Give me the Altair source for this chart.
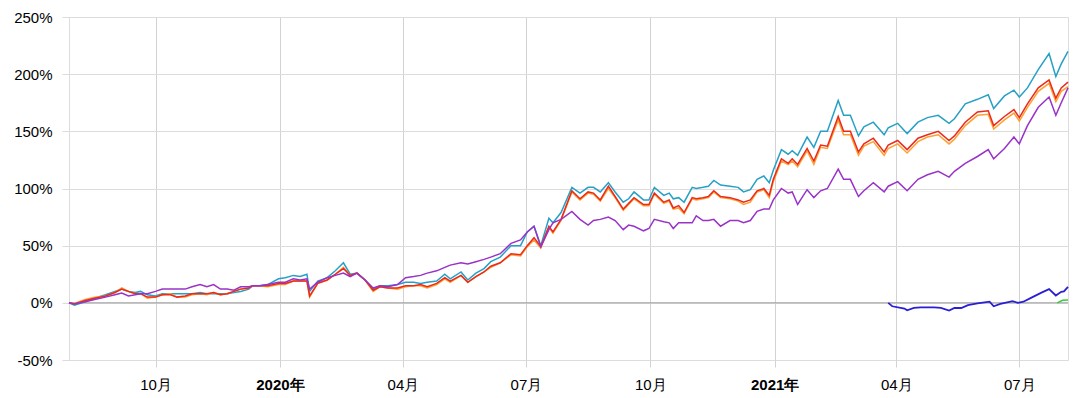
import altair as alt
import pandas as pd

# ---- data (cumulative return, %) ----
dates = [
    "2019-07-29", "2019-08-02", "2019-08-10", "2019-08-17", "2019-08-25", "2019-09-01", "2019-09-06",
    "2019-09-11", "2019-09-16", "2019-09-20", "2019-09-25", "2019-10-01", "2019-10-06", "2019-10-12",
    "2019-10-17", "2019-10-23", "2019-10-28", "2019-11-03", "2019-11-08", "2019-11-13", "2019-11-18",
    "2019-11-23", "2019-11-28", "2019-12-03", "2019-12-09", "2019-12-12", "2019-12-17", "2019-12-23",
    "2019-12-31", "2020-01-05", "2020-01-11", "2020-01-16", "2020-01-21", "2020-01-23", "2020-01-29",
    "2020-02-05", "2020-02-11", "2020-02-17", "2020-02-22", "2020-02-27", "2020-03-04", "2020-03-10",
    "2020-03-15", "2020-03-21", "2020-03-28", "2020-04-03", "2020-04-09", "2020-04-14", "2020-04-19",
    "2020-04-26", "2020-05-02", "2020-05-06", "2020-05-14", "2020-05-19", "2020-05-25", "2020-05-31",
    "2020-06-05", "2020-06-12", "2020-06-20", "2020-06-27", "2020-07-02", "2020-07-07", "2020-07-12",
    "2020-07-18", "2020-07-21", "2020-07-27", "2020-08-04", "2020-08-10", "2020-08-16", "2020-08-20",
    "2020-08-25", "2020-08-31", "2020-09-05", "2020-09-11", "2020-09-15", "2020-09-19", "2020-09-26",
    "2020-09-30", "2020-10-04", "2020-10-11", "2020-10-15", "2020-10-18", "2020-10-22", "2020-10-26",
    "2020-11-01", "2020-11-04", "2020-11-09", "2020-11-13", "2020-11-17", "2020-11-22", "2020-11-29",
    "2020-12-05", "2020-12-09", "2020-12-14", "2020-12-19", "2020-12-24", "2020-12-28", "2020-12-31",
    "2021-01-06", "2021-01-11", "2021-01-14", "2021-01-18", "2021-01-25", "2021-01-30", "2021-02-04",
    "2021-02-09", "2021-02-17", "2021-02-21", "2021-02-26", "2021-03-04", "2021-03-08", "2021-03-15",
    "2021-03-23", "2021-03-26", "2021-04-02", "2021-04-09", "2021-04-17", "2021-04-24", "2021-05-02",
    "2021-05-10", "2021-05-14", "2021-05-22", "2021-05-31", "2021-06-08", "2021-06-12", "2021-06-20",
    "2021-06-27", "2021-07-01", "2021-07-07", "2021-07-15", "2021-07-23", "2021-07-28", "2021-08-01",
    "2021-08-06",
]

teal = [
    0, -2, 1, 4, 7, 10, 12, 10, 9, 10, 7, 6, 8, 8, 8, 8, 8, 9, 8, 8, 8, 8, 9, 10, 12, 15, 15, 16,
    21, 22, 24, 23, 25, 10, 19, 22, 28, 35, 25, 26, 20, 12, 15, 15, 16, 18, 18, 17, 18, 19, 25, 21,
    27, 20, 26, 30, 36, 40, 50, 50, 62, 67, 50, 74, 70, 79, 101, 96, 101, 101, 97, 105, 97, 88, 91,
    97, 90, 90, 101, 94, 96, 91, 92, 88, 101, 100, 101, 102, 107, 103, 102, 101, 97, 99, 108, 111,
    105, 116, 134, 130, 133, 129, 145, 136, 150, 150, 177, 164, 164, 146, 154, 158, 147, 153, 157,
    148, 158, 162, 164, 157, 161, 174, 178, 182, 170, 181, 186, 180, 188, 204, 218, 198, 209, 220,
]

red = [
    0, -1, 2, 4, 6, 9, 12, 10, 8, 8, 5, 5, 7, 7, 5, 6, 8, 8, 8, 9, 7, 8, 10, 12, 13, 15, 15, 15,
    17, 17, 19, 19, 19, 6, 17, 20, 25, 30, 24, 26, 20, 11, 14, 13, 13, 15, 15, 16, 14, 17, 22, 19,
    24, 18, 23, 27, 32, 35, 43, 42, 50, 57, 49, 67, 62, 73, 98, 91, 97, 96, 90, 102, 93, 82, 87,
    92, 86, 86, 96, 88, 90, 83, 85, 79, 92, 91, 92, 93, 98, 93, 92, 90, 88, 90, 98, 100,
    94, 108, 126, 122, 126, 121, 135, 124, 138, 137, 163, 150, 150, 132, 139, 144, 132, 138, 142,
    134, 144, 147, 150, 142, 146, 158, 167, 168, 155, 163, 169, 162, 174, 188, 195, 179, 188, 193,
]

orange = [
    0, -0.5, 3, 5, 6, 9, 13, 10, 8, 8, 4, 5, 7, 8, 5, 5, 7, 8, 7, 9, 7, 8, 10, 12, 13, 15, 15, 14,
    16, 16, 19, 19, 19, 5, 17, 20, 25, 31, 24, 26, 20, 10, 14, 13, 12, 14, 15, 15, 13, 16, 21, 18,
    24, 18, 23, 27, 31, 35, 42, 41, 49, 55, 48, 66, 61, 72, 97, 90, 96, 95, 89, 100, 92, 81, 86,
    91, 85, 85, 95, 87, 89, 82, 83, 78, 91, 90, 91, 92, 97, 92, 91, 89, 86, 88, 97, 99,
    92, 106, 124, 121, 124, 119, 133, 121, 136, 135, 160, 147, 147, 129, 137, 141, 129, 135, 139,
    131, 141, 145, 147, 139, 143, 155, 164, 165, 152, 160, 166, 159, 171, 185, 192, 176, 185, 189,
]

purple = [
    0, -1, 1, 3, 5, 7, 8.5, 6, 7, 8, 8, 10, 12, 12, 12, 12, 14, 16, 14, 16, 12, 12, 11, 14, 14, 15,
    15, 16, 18, 18, 21, 20, 21, 12, 18, 22, 24, 26, 23, 26, 20, 13, 15, 14, 16, 22, 23, 24, 26, 28,
    31, 33, 35, 34, 36, 38, 40, 43, 52, 55, 62, 67, 49, 64, 70, 73, 80, 73, 68, 72, 73, 75, 72, 64,
    68, 67, 63, 65, 73, 71, 70, 65, 70, 70, 70, 76, 72, 72, 73, 67, 72, 72, 70, 72, 80, 82,
    82, 90, 100, 96, 97, 86, 99, 92, 98, 100, 117, 108, 108, 93, 98, 105, 97, 102, 106,
    98, 108, 112, 115, 110, 115, 122, 128, 134, 126, 135, 145, 139, 155, 171, 180, 164, 175, 188,
]

blue_dates = [
    "2021-03-26", "2021-03-29", "2021-04-07", "2021-04-09", "2021-04-14", "2021-04-19", "2021-04-29",
    "2021-05-04", "2021-05-10", "2021-05-14", "2021-05-19", "2021-05-24", "2021-05-31", "2021-06-09",
    "2021-06-12", "2021-06-17", "2021-06-26", "2021-06-30", "2021-07-04", "2021-07-10", "2021-07-17",
    "2021-07-23", "2021-07-28", "2021-08-01", "2021-08-03", "2021-08-06",
]
blue = [0, -3, -5, -6.5, -4.5, -4, -4, -4.5, -6.7, -4.5, -4.5, -2, -0.5, 1, -3, -1, 1.5, 0, 1,
        4.6, 8.7, 12, 6.4, 9.6, 10, 14]

green_dates = ["2021-07-29", "2021-08-02", "2021-08-06"]
green = [0, 2.3, 2.5]

y_ticks = [-50, 0, 50, 100, 150, 200, 250]

# ---- build tables ----
main_series = [
    ("teal", teal, "#27a0c6"),
    ("orange", orange, "#ffa030"),
    ("red", red, "#ea2a1c"),
    ("purple", purple, "#9a32c8"),
]

x_enc = alt.X(
    "date:T",
    scale=alt.Scale(
        domain=[alt.DateTime(year=2019, month=7, date=29), alt.DateTime(year=2021, month=8, date=6)],
        nice=False,
    ),
    axis=alt.Axis(
        values=[
            alt.DateTime(year=2019, month=10, date=1),
            alt.DateTime(year=2020, month=1, date=1),
            alt.DateTime(year=2020, month=4, date=1),
            alt.DateTime(year=2020, month=7, date=1),
            alt.DateTime(year=2020, month=10, date=1),
            alt.DateTime(year=2021, month=1, date=1),
            alt.DateTime(year=2021, month=4, date=1),
            alt.DateTime(year=2021, month=7, date=1),
        ],
        labelExpr="month(datum.value) == 0 ? timeFormat(datum.value, '%Y') + '年' : timeFormat(datum.value, '%m') + '月'",
        labelFontWeight={"condition": {"test": "month(datum.value) == 0", "value": "bold"}, "value": "normal"},
        grid=True,
        gridColor="#d2d2d2",
        tickColor="#d2d2d2",
        tickSize=7,
        labelPadding=10,
        labelFontSize=15,
        labelColor="#000000",
        domain=False,
        title=None,
    ),
)

y_enc = alt.Y(
    "value:Q",
    scale=alt.Scale(domain=[-50, 250], nice=False, zero=False),
    axis=alt.Axis(
        values=y_ticks,
        labelExpr="datum.value + '%'",
        grid=True,
        gridColor="#dcdcdc",
        tickColor="#dcdcdc",
        tickSize=7,
        labelPadding=10,
        labelFontSize=15,
        labelColor="#000000",
        domain=False,
        title=None,
    ),
)

layers = []
zero_df = pd.DataFrame({"value": [0]})
layers.append(alt.Chart(zero_df).mark_rule(color="#9a9a9a", strokeWidth=1).encode(y=y_enc))

for name, vals, color in main_series:
    df = pd.DataFrame({"date": pd.to_datetime(dates), "value": vals})
    layers.append(
        alt.Chart(df).mark_line(color=color, strokeWidth=1.5, interpolate="linear").encode(x=x_enc, y=y_enc)
    )

df_b = pd.DataFrame({"date": pd.to_datetime(blue_dates), "value": blue})
layers.append(alt.Chart(df_b).mark_line(color="#2a1fd4", strokeWidth=1.8).encode(x=x_enc, y=y_enc))
df_g = pd.DataFrame({"date": pd.to_datetime(green_dates), "value": green})
layers.append(alt.Chart(df_g).mark_line(color="#33cc44", strokeWidth=1.5).encode(x=x_enc, y=y_enc))

chart = (
    alt.layer(*layers)
    .properties(
        width=999,
        height=343,
        autosize=alt.AutoSizeParams(type="none"),
        padding={"left": 61, "top": 9, "right": 4, "bottom": 36},
    )
    .configure_view(stroke="#d2d2d2")
    .configure_axis(labelFont="DejaVu Sans")
    .configure(background="white")
)

chart.save("out.html", embed_options={"renderer": "svg", "actions": False})
